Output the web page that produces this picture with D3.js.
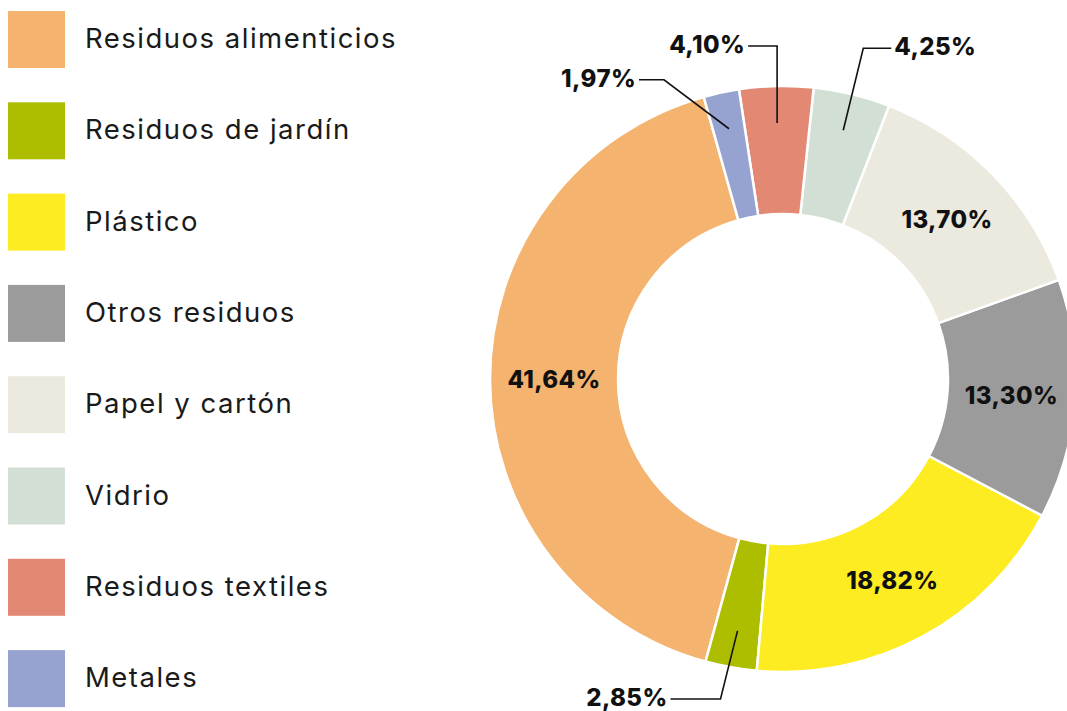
<!DOCTYPE html>
<html>
<head>
<meta charset="utf-8">
<script src="https://cdn.jsdelivr.net/npm/d3@7"></script>
<style>
  html, body { margin: 0; padding: 0; background: #fff; }
  svg { display: block; font-family: Inter, "Noto Sans", sans-serif; }
</style>
</head>
<body>
<div id="chart"></div>
<script>
// categories in legend order (drawn counter-clockwise)
const categories = [
  "Residuos alimenticios",
  "Residuos de jardín",
  "Plástico",
  "Otros residuos",
  "Papel y cartón",
  "Vidrio",
  "Residuos textiles",
  "Metales"
];
const values = [41.64, 2.85, 18.82, 13.30, 13.70, 4.25, 4.10, 1.97];
const colors = ["#F4B36F", "#ADBE00", "#FCEC21", "#9B9B9B", "#ECE9DE", "#D2DFD5", "#E38873", "#96A3D1"];

// small slices get a leader line outside the ring
const outsideLabels = {
  "Residuos de jardín": { dx: -17, dy: 68, len: 50, side: "left" },
  "Vidrio": { dx: 20, dy: -82, len: 28, side: "right" },
  "Residuos textiles": { dx: 0, dy: -77, len: 29, side: "left" },
  "Metales": { dx: -65, dy: -49, len: 25, side: "left" }
};

const width = 1067, height = 711;
const cx = 783, cy = 379;
const outerR = 293, innerR = 165;

const fmt = v => v.toFixed(2).replace(".", ",") + "%";

const svg = d3.select("#chart").append("svg")
  .attr("width", width)
  .attr("height", height);

// legend
const legend = svg.append("g").attr("class", "legend");
const step = 91.3;
categories.forEach((c, i) => {
  legend.append("rect")
    .attr("x", 8)
    .attr("y", 11 + i * step)
    .attr("width", 57)
    .attr("height", 57)
    .attr("fill", colors[i]);
  legend.append("text")
    .attr("x", 85)
    .attr("y", 48 + i * step)
    .attr("font-size", "27.5px")
    .attr("letter-spacing", "1.5px")
    .attr("fill", "#1a1a1a")
    .text(c);
});

// donut
const start = -15.7 * Math.PI / 180;
const pie = d3.pie()
  .sort(null)
  .value(d => d.value)
  .startAngle(start)
  .endAngle(start - 2 * Math.PI);

const slices = pie(categories.map((c, i) => ({ name: c, value: values[i], color: colors[i] })));

const arc = d3.arc().innerRadius(innerR).outerRadius(outerR);
const midArc = d3.arc().innerRadius(229).outerRadius(229);
const lineArc = d3.arc().innerRadius(256).outerRadius(256);

const g = svg.append("g").attr("transform", `translate(${cx},${cy})`);

g.selectAll("path.slice")
  .data(slices)
  .enter()
  .append("path")
  .attr("class", "slice")
  .attr("d", arc)
  .attr("fill", d => d.data.color)
  .attr("stroke", "#fff")
  .attr("stroke-width", 2.5);

// labels inside the ring
g.selectAll("text.inside")
  .data(slices.filter(d => !outsideLabels[d.data.name]))
  .enter()
  .append("text")
  .attr("class", "inside")
  .attr("transform", d => `translate(${midArc.centroid(d)})`)
  .attr("text-anchor", "middle")
  .attr("dy", "0.36em")
  .attr("font-size", "24px")
  .attr("font-weight", 800)
  .attr("letter-spacing", "0.4px")
  .attr("fill", "#111")
  .text(d => fmt(d.data.value));

// leader lines + outside labels
const outer = slices.filter(d => outsideLabels[d.data.name]);
outer.forEach(d => {
  const o = outsideLabels[d.data.name];
  const p0 = lineArc.centroid(d);
  const p1 = [p0[0] + o.dx, p0[1] + o.dy];
  const dir = o.side === "left" ? -1 : 1;
  const p2 = [p1[0] + dir * o.len, p1[1]];
  g.append("path")
    .attr("d", d3.line()([p0, p1, p2]))
    .attr("fill", "none")
    .attr("stroke", "#111")
    .attr("stroke-width", 1.6);
  g.append("text")
    .attr("x", p2[0] + dir * 3)
    .attr("y", p2[1])
    .attr("dy", "0.3em")
    .attr("text-anchor", o.side === "left" ? "end" : "start")
    .attr("font-size", "24px")
    .attr("font-weight", 800)
    .attr("letter-spacing", "0.4px")
    .attr("fill", "#111")
    .text(fmt(d.data.value));
});
</script>
</body>
</html>
